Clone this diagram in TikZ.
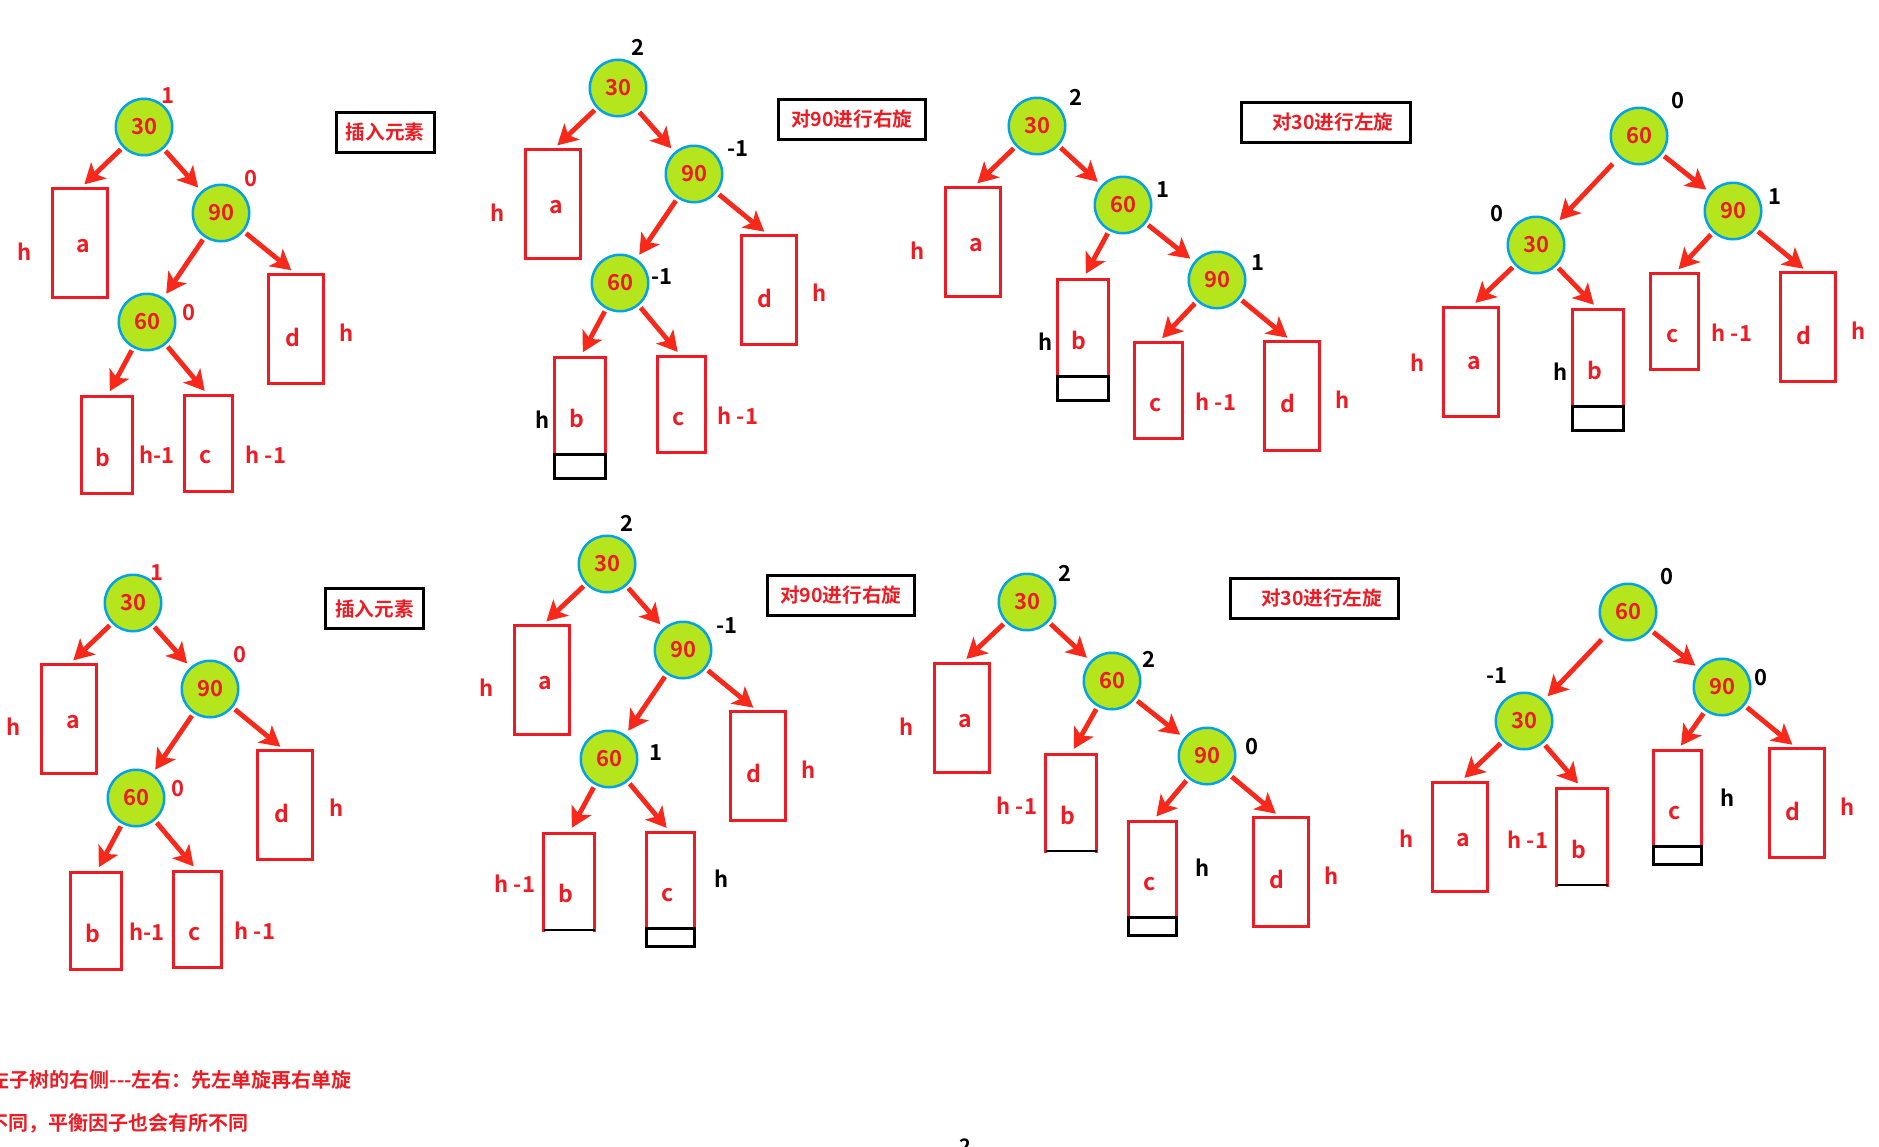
\documentclass[tikz,border=0pt]{standalone}
\usepackage{fontspec}
\setmainfont{Noto Sans CJK SC}[BoldFont=* Bold]
\usetikzlibrary{arrows.meta}
\definecolor{tred}{HTML}{ED1C24}
\definecolor{tgreen}{HTML}{B5E61D}
\definecolor{tblue}{HTML}{00A2E8}
\definecolor{tarrow}{HTML}{F8281A}
\tikzset{
  knot/.style={circle, draw=tblue, fill=tgreen, line width=1.25pt, minimum size=28.25pt,
    inner sep=0pt, outer sep=0pt, text=tred, font=\bfseries\fontsize{11}{12}\selectfont},
  tree/.style={draw=tred, line width=1.5pt, inner sep=0pt, outer sep=0pt,
    minimum width=27.5pt, minimum height=54.5pt},
  treeb/.style={tree, minimum width=25.5pt, minimum height=48.5pt},
  treec/.style={tree, minimum width=24pt, minimum height=48pt},
  pad/.style={draw=black, line width=1.5pt, inner sep=0pt, outer sep=0pt, anchor=north},
  leaf/.style={text=tred, inner sep=0pt, font=\bfseries\fontsize{11.5}{12}\selectfont},
  hgt/.style={text=tred, inner sep=0pt, font=\bfseries\fontsize{11}{12}\selectfont},
  bal/.style={inner sep=0pt, font=\bfseries\fontsize{11}{12}\selectfont},
  stagetag/.style={draw=black, line width=1.5pt, text=tred, inner sep=0pt, minimum height=20pt,
    font=\bfseries\fontsize{9.8}{12}\selectfont},
  arr/.style={draw=tarrow, line width=2.4pt, -{Stealth[length=10pt,width=11pt,inset=2.5pt]},
    shorten <=2pt, shorten >=3pt},
  note/.style={anchor=west, inner sep=0pt, text=tred, font=\bfseries\fontsize{10}{12}\selectfont},
}
\begin{document}
\begin{tikzpicture}[x=0.5pt, y=-0.5pt]
\useasboundingbox (0,0) rectangle (1879,1146);
\clip (0,0) rectangle (1879,1146);

% ---- top row ----
\begin{scope}[name prefix=p1-]
\node[knot] (n30) at (144,127) {30};
\node[knot] (n90) at (221,213) {90};
\node[knot] (n60) at (147,322) {60};
\node[bal, text=tred] (f30) at (168,96) {1};
\node[bal, text=tred] (f90) at (251,179) {0};
\node[bal, text=tred] (f60) at (189,313) {0};
\node[tree] (a) at (80,243) {};
\node[tree] (d) at (296,328.5) {};
\node[treeb] (b) at (107,445) {};
\node[treec] (c) at (208.5,443.5) {};
\node[leaf] (ta) at (83,246) {a};
\node[leaf] (td) at (293,337) {d};
\node[leaf] (tb) at (103,457) {b};
\node[leaf] (tc) at (206,457) {c};
\node[hgt] (ha) at (25,252) {h};
\node[hgt] (hd) at (347,333) {h};
\node[hgt] (hb) at (157,455) {h-1};
\node[hgt] (hc) at (266,455) {h -1};
\node[stagetag, minimum width=49pt] (tag) at (385,132.5) {插入元素};
\draw[arr] (n30) -- (a.north);
\draw[arr] (n30) -- (n90);
\draw[arr] (n90) -- (n60);
\draw[arr] (n90) -- (d.north);
\draw[arr] (n60) -- (b.north);
\draw[arr] (n60) -- (c.north);
\end{scope}

\begin{scope}[name prefix=p2-]
\node[knot] (n30) at (618,88) {30};
\node[knot] (n90) at (694,174) {90};
\node[knot] (n60) at (620,283) {60};
\node[bal] (f30) at (638,47) {2};
\node[bal] (f90) at (738,149) {-1};
\node[bal] (f60) at (662,277) {-1};
\node[tree] (a) at (553,204) {};
\node[tree] (d) at (769,290) {};
\node[treeb] (b) at (580,406) {};
\node[treec] (c) at (681.5,404.5) {};
\node[pad, minimum width=25.5pt, minimum height=12pt] (pad) at (b.south) {};
\node[leaf] (ta) at (556,207) {a};
\node[leaf] (td) at (765,298) {d};
\node[leaf] (tb) at (577,418) {b};
\node[leaf] (tc) at (679,419) {c};
\node[hgt] (ha) at (498,213) {h};
\node[hgt] (hd) at (820,293) {h};
\node[hgt, text=black] (hb) at (543,420) {h};
\node[hgt] (hc) at (738,416) {h -1};
\node[stagetag, minimum width=73.5pt] (tag) at (851.7,119) {对90进行右旋};
\draw[arr] (n30) -- (a.north);
\draw[arr] (n30) -- (n90);
\draw[arr] (n90) -- (n60);
\draw[arr] (n90) -- (d.north);
\draw[arr] (n60) -- (b.north);
\draw[arr] (n60) -- (c.north);
\end{scope}

\begin{scope}[name prefix=p3-]
\node[knot] (n30) at (1037,126) {30};
\node[knot] (n60) at (1123,205) {60};
\node[knot] (n90) at (1217,280) {90};
\node[bal] (f30) at (1076,97) {2};
\node[bal] (f60) at (1163,190) {1};
\node[bal] (f90) at (1258,263) {1};
\node[tree] (a) at (973,242) {};
\node[treeb] (b) at (1083,327.5) {};
\node[treec] (c) at (1158,390.5) {};
\node[tree] (d) at (1292,396) {};
\node[pad, minimum width=25.5pt, minimum height=12pt] (pad) at (b.south) {};
\node[leaf] (ta) at (976,245) {a};
\node[leaf] (tb) at (1079,340) {b};
\node[leaf] (tc) at (1156,405) {c};
\node[leaf] (td) at (1288,403) {d};
\node[hgt] (ha) at (918,251) {h};
\node[hgt, text=black] (hb) at (1046,342) {h};
\node[hgt] (hc) at (1216,402) {h -1};
\node[hgt] (hd) at (1343,400) {h};
\node[stagetag, minimum width=84.3pt] (tag) at (1325.8,122.2) {\hspace*{7pt}对30进行左旋};
\draw[arr] (n30) -- (a.north);
\draw[arr] (n30) -- (n60);
\draw[arr] (n60) -- (b.north);
\draw[arr] (n60) -- (n90);
\draw[arr] (n90) -- (c.north);
\draw[arr] (n90) -- (d.north);
\end{scope}

\begin{scope}[name prefix=p4-]
\node[knot] (n60) at (1639,136) {60};
\node[knot] (n30) at (1536,245) {30};
\node[knot] (n90) at (1733,211) {90};
\node[bal] (f60) at (1678,101) {0};
\node[bal] (f30) at (1497,214) {0};
\node[bal] (f90) at (1775,197) {1};
\node[tree] (a) at (1471,361.5) {};
\node[treeb] (b) at (1598,357.5) {};
\node[treec] (c) at (1674.5,321.5) {};
\node[tree] (d) at (1808,327) {};
\node[pad, minimum width=25.5pt, minimum height=12pt] (pad) at (b.south) {};
\node[leaf] (ta) at (1474,363) {a};
\node[leaf] (tb) at (1595,370) {b};
\node[leaf] (tc) at (1673,336) {c};
\node[leaf] (td) at (1804,335) {d};
\node[hgt] (ha) at (1418,363) {h};
\node[hgt, text=black] (hb) at (1561,372) {h};
\node[hgt] (hc) at (1732,333) {h -1};
\node[hgt] (hd) at (1859,331) {h};
\draw[arr, shorten <=5pt] (n60) -- (n30);
\draw[arr] (n60) -- (n90);
\draw[arr] (n30) -- (a.north);
\draw[arr] (n30) -- (b.north);
\draw[arr] (n90) -- (c.north);
\draw[arr] (n90) -- (d.north);
\end{scope}

% ---- bottom row ----
\begin{scope}[name prefix=p5-]
\node[knot] (n30) at (133,603) {30};
\node[knot] (n90) at (210,689) {90};
\node[knot] (n60) at (136,798) {60};
\node[bal, text=tred] (f30) at (157,573) {1};
\node[bal, text=tred] (f90) at (240,655) {0};
\node[bal, text=tred] (f60) at (178,789) {0};
\node[tree] (a) at (69,719) {};
\node[tree] (d) at (285,805) {};
\node[treeb] (b) at (96,921) {};
\node[treec] (c) at (197.5,919) {};
\node[leaf] (ta) at (73,722) {a};
\node[leaf] (td) at (282,813) {d};
\node[leaf] (tb) at (93,933) {b};
\node[leaf] (tc) at (195,934) {c};
\node[hgt] (ha) at (14,727) {h};
\node[hgt] (hd) at (337,808) {h};
\node[hgt] (hb) at (147,932) {h-1};
\node[hgt] (hc) at (255,931) {h -1};
\node[stagetag, minimum width=49pt] (tag) at (374.5,608.7) {插入元素};
\draw[arr] (n30) -- (a.north);
\draw[arr] (n30) -- (n90);
\draw[arr] (n90) -- (n60);
\draw[arr] (n90) -- (d.north);
\draw[arr] (n60) -- (b.north);
\draw[arr] (n60) -- (c.north);
\end{scope}

\begin{scope}[name prefix=p6-]
\node[knot] (n30) at (607,564) {30};
\node[knot] (n90) at (683,650) {90};
\node[knot] (n60) at (609,759) {60};
\node[bal] (f30) at (627,523) {2};
\node[bal] (f90) at (727,626) {-1};
\node[bal] (f60) at (656,753) {1};
\node[tree] (a) at (542,680) {};
\node[tree] (d) at (758,766) {};
\node[treeb] (b) at (569,881.5) {};
\node[treec] (c) at (670.5,880.5) {};
\draw[white, line width=1.6pt, shorten <=0.75pt, shorten >=0.75pt] (b.south west) -- (b.south east);
\draw[line width=0.6pt] (b.south west) -- (b.south east);
\node[pad, minimum width=24pt, minimum height=9pt] (pad) at (c.south) {};
\node[leaf] (ta) at (545,683) {a};
\node[leaf] (td) at (754,773) {d};
\node[leaf] (tb) at (566,893) {b};
\node[leaf] (tc) at (668,895) {c};
\node[hgt] (ha) at (487,688) {h};
\node[hgt] (hd) at (809,770) {h};
\node[hgt] (hb) at (515,884) {h -1};
\node[hgt, text=black] (hc) at (722,879) {h};
\node[stagetag, minimum width=73.5pt] (tag) at (840.8,595) {对90进行右旋};
\draw[arr] (n30) -- (a.north);
\draw[arr] (n30) -- (n90);
\draw[arr] (n90) -- (n60);
\draw[arr] (n90) -- (d.north);
\draw[arr] (n60) -- (b.north);
\draw[arr] (n60) -- (c.north);
\end{scope}

\begin{scope}[name prefix=p7-]
\node[knot] (n30) at (1027,602) {30};
\node[knot] (n60) at (1112,681) {60};
\node[knot] (n90) at (1207,756) {90};
\node[bal] (f30) at (1065,573) {2};
\node[bal] (f60) at (1149,659) {2};
\node[bal] (f90) at (1252,747) {0};
\node[tree] (a) at (962,717.5) {};
\node[treeb] (b) at (1071,802.5) {};
\node[treec] (c) at (1152.5,869) {};
\node[tree] (d) at (1280.5,872) {};
\draw[white, line width=1.6pt, shorten <=0.75pt, shorten >=0.75pt] (b.south west) -- (b.south east);
\draw[line width=0.6pt] (b.south west) -- (b.south east);
\node[pad, minimum width=24pt, minimum height=9pt] (pad) at (c.south) {};
\node[leaf] (ta) at (965,721) {a};
\node[leaf] (tb) at (1068,815) {b};
\node[leaf] (tc) at (1150,884) {c};
\node[leaf] (td) at (1277,879) {d};
\node[hgt] (ha) at (907,727) {h};
\node[hgt] (hb) at (1017,806) {h -1};
\node[hgt, text=black] (hc) at (1203,868) {h};
\node[hgt] (hd) at (1332,876) {h};
\node[stagetag, minimum width=84.3pt] (tag) at (1314.6,598.3) {\hspace*{7pt}对30进行左旋};
\draw[arr] (n30) -- (a.north);
\draw[arr] (n30) -- (n60);
\draw[arr] (n60) -- (b.north);
\draw[arr] (n60) -- (n90);
\draw[arr] (n90) -- (c.north);
\draw[arr] (n90) -- (d.north);
\end{scope}

\begin{scope}[name prefix=p8-]
\node[knot] (n60) at (1628,612) {60};
\node[knot] (n30) at (1524,721) {30};
\node[knot] (n90) at (1722,687) {90};
\node[bal] (f60) at (1667,577) {0};
\node[bal] (f30) at (1497,676) {-1};
\node[bal] (f90) at (1761,678) {0};
\node[tree] (a) at (1460,836.5) {};
\node[treeb] (b) at (1582,836.5) {};
\node[treec] (c) at (1677.5,798.5) {};
\node[tree] (d) at (1797,803) {};
\draw[white, line width=1.6pt, shorten <=0.75pt, shorten >=0.75pt] (b.south west) -- (b.south east);
\draw[line width=0.6pt] (b.south west) -- (b.south east);
\node[pad, minimum width=24pt, minimum height=9pt] (pad) at (c.south) {};
\node[leaf] (ta) at (1463,840) {a};
\node[leaf] (tb) at (1579,849) {b};
\node[leaf] (tc) at (1675,813) {c};
\node[leaf] (td) at (1793,811) {d};
\node[hgt] (ha) at (1407,839) {h};
\node[hgt] (hb) at (1528,840) {h -1};
\node[hgt, text=black] (hc) at (1728,798) {h};
\node[hgt] (hd) at (1848,807) {h};
\draw[arr, shorten <=5pt] (n60) -- (n30);
\draw[arr] (n60) -- (n90);
\draw[arr] (n30) -- (a.north);
\draw[arr] (n30) -- (b.north);
\draw[arr] (n90) -- (c.north);
\draw[arr] (n90) -- (d.north);
\end{scope}

% notes at the foot
\node[note] (note1) at (-10.6,1080) {左子树的右侧-{}-{}-左右：先左单旋再右单旋};
\node[note] (note2) at (-11.6,1123) {不同，平衡因子也会有所不同};
\node[anchor=north, inner sep=0pt, font=\bfseries\fontsize{10}{12}\selectfont] (pagenum) at (965,1138) {2};
\end{tikzpicture}
\end{document}
